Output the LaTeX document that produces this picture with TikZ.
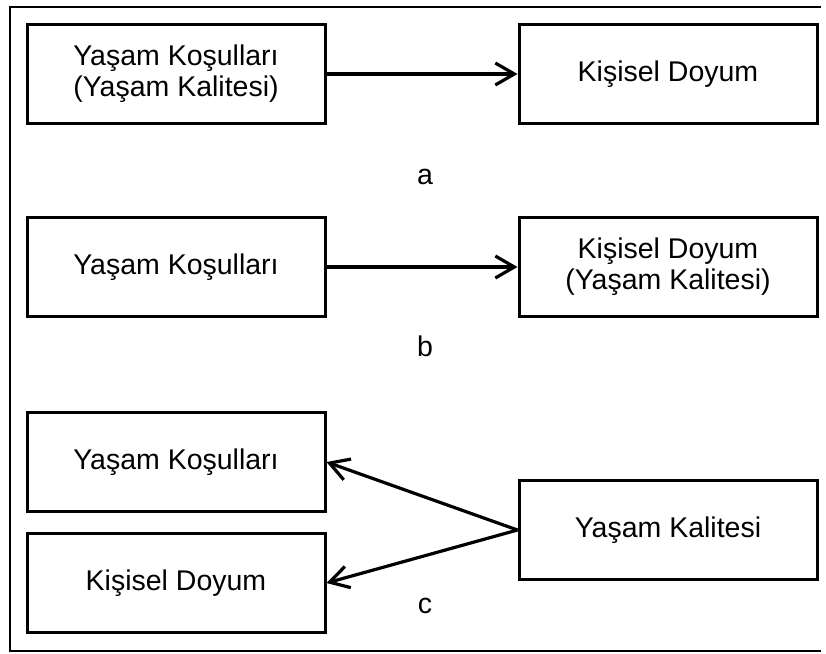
\documentclass[tikz,border=0pt]{standalone}
\usepackage{fontspec}
\setmainfont{Liberation Sans}
\usetikzlibrary{arrows.meta}
\begin{document}
\begin{tikzpicture}[x=1pt,y=-1pt,
  box/.style={draw, line width=3pt, minimum width=298pt, minimum height=99pt, inner sep=0pt, align=center, font=\fontsize{28.5}{31}\selectfont},
  lbl/.style={font=\fontsize{28.5}{31}\selectfont, inner sep=0pt, anchor=base},
  conn/.style={line width=3.2pt, -{Straight Barb[length=19pt,width=22pt,line width=3.2pt]}}]
\useasboundingbox (0,0) rectangle (826,653);
\draw[line width=2.4pt] (821,7) -- (10,7) -- (10,651) -- (821,651);
% a
\node[box] (a1) at (176,74) {Yaşam Koşulları\\(Yaşam Kalitesi)};
\node[box] (a2) at (668,74) {Kişisel Doyum};
\draw[conn] (a1.east) -- (a2.west);
\node[lbl] (la) at (425,184) {a};
% b
\node[box] (b1) at (176,267) {Yaşam Koşulları};
\node[box] (b2) at (668,267) {Kişisel Doyum\\(Yaşam Kalitesi)};
\draw[conn] (b1.east) -- (b2.west);
\node[lbl] (lb) at (425,356) {b};
% c
\node[box] (c1) at (176,462) {Yaşam Koşulları};
\node[box] (c2) at (176,583) {Kişisel Doyum};
\node[box] (c3) at (668,530) {Yaşam Kalitesi};
\draw[conn] (c3.west) -- (c1.east);
\draw[conn] (c3.west) -- (c2.east);
\node[lbl] (lc) at (425,613) {c};
\end{tikzpicture}
\end{document}
